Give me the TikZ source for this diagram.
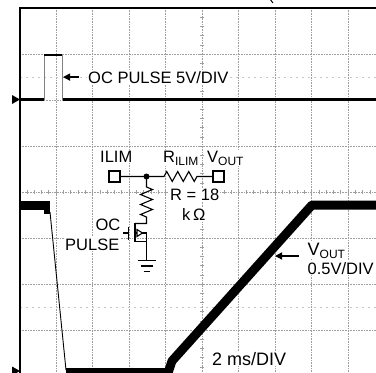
\documentclass[tikz,border=0pt]{standalone}
\usepackage{fontspec}
\setmainfont{Liberation Sans}
\usetikzlibrary{arrows.meta}

\tikzset{
  every node/.style={font=\fontsize{16.5}{19}\selectfont},
  grid line/.style={gray!75, line width=0.6pt, densely dotted},
  half line/.style={gray!45, line width=0.6pt, dash pattern=on 2pt off 4pt},
  trace/.style={black, line width=#1, line join=round},
  label/.style={fill=white, inner sep=1pt, anchor=base west},
  rlabel/.style={fill=white, inner sep=1pt, anchor=base east},
  pointer/.style={-{Triangle[length=7pt,width=7pt]}, line width=1.3pt},
  wire/.style={black, line width=1.1pt},
  term/.style={draw, fill=white, line width=1.1pt, minimum size=11pt, inner sep=0pt},
}
\newcommand{\sub}[1]{\raisebox{-3pt}{\fontsize{12}{12}\selectfont #1}}

\begin{document}
\begin{tikzpicture}[x=1pt, y=-1pt]
    \useasboundingbox (0,0) rectangle (376,373);
    \clip (0,0) rectangle (376,373);

    % graticule
    \foreach \i in {1,...,9}
        \draw[grid line] ({19.5+36.5*\i},8) -- ({19.5+36.5*\i},380);
    \foreach \j in {1,...,7}
        \draw[grid line] (20,{8+46*\j}) -- (390,{8+46*\j});
    \foreach \j in {77,307}
        \draw[half line] (20,\j) -- (390,\j);
    \foreach \j in {0,...,40}
        \draw[gray!75, line width=0.6pt] (200,{8+9.2*\j}) -- (204,{8+9.2*\j});
    \foreach \i in {0,...,50}
        \draw[gray!75, line width=0.6pt] ({19.5+7.3*\i},190) -- ({19.5+7.3*\i},194);

    % frame and channel markers
    \draw[black, line width=2pt] (20,380) -- (20,8) -- (390,8);
    \fill (12,95) -- (20,99.5) -- (12,104) -- cycle;
    \fill (12,366.5) -- (20,371) -- (12,375.5) -- cycle;
    \draw[line width=1pt] (270,-1) -- (273,3);

    % OC pulse trace
    \draw[trace=2.5pt] (20,99.5) -- (43.5,99.5);
    \draw[gray, line width=0.8pt] (44,99.5) -- (44,55);
    \draw[gray, line width=0.8pt] (62,55) -- (62,99.5);
    \draw[trace=2.5pt] (44,55) -- (62,55);
    \draw[trace=2.5pt] (62.5,99.5) -- (390,99.5);

    % VOUT trace
    \draw[trace=9pt] (20,205) -- (45,205);
    \fill (44,201) rectangle (50,214);
    \draw[black, line width=0.9pt] (50,212) -- (66,370);
    \draw[trace=7pt] (66,371) -- (168,371);
    \draw[trace=9pt] (168,373) -- (172,361) -- (312,205) -- (390,205);

    % labels on the traces
    \coordinate (pulse) at (63,0);
    \node[label] (ocpulse) at (87,83) {OC PULSE 5V/DIV};
    \draw[pointer] ([xshift=-8pt]ocpulse.west) -- (ocpulse.west -| pulse);

    \coordinate (ramp) at (275,0);
    \node[label] (vout) at (306.5,255) {{\fontsize{18}{19}\selectfont V}\sub{OUT}};
    \node[label] (voutscale) at (306.5,274) {0.5V/DIV};
    \draw[pointer] ([xshift=-8pt,yshift=-1pt]vout.base west) -- ([yshift=-1pt]vout.base west -| ramp);

    \node[label, font=\fontsize{18}{20}\selectfont] (timebase) at (211,365) {2 ms/DIV};

    % current limit circuit
    \node[term] (ilim) at (114.5,176.5) {};
    \node[term] (voutpin) at (218.5,176.5) {};
    \coordinate (jn) at (146.5,176.5);
    \coordinate (drain) at (146.5,223.5);
    \coordinate (gnd) at (146.5,260.5);

    \draw[wire] (ilim) -- (jn) -- (164,176.5)
        -- ++(2.75,-5) -- ++(5.5,10) -- ++(5.5,-10) -- ++(5.5,10)
        -- ++(5.5,-10) -- ++(5.5,10) -- ++(2.75,-5) -- (voutpin);
    \draw[wire] (jn) -- (146.5,187)
        -- ++(6,2.5) -- ++(-12,5) -- ++(12,5) -- ++(-12,5)
        -- ++(12,5) -- ++(-12,5) -- ++(6,2.5) -- (drain) -- (135,223.5);
    \fill (jn) circle (3pt);

    % mosfet
    \draw[line width=1.6pt] (135,222.5) -- (135,242);
    \draw[line width=1.6pt] (128.5,226.5) -- (128.5,239.5);
    \draw[wire] (123,233) -- (128.5,233);
    \draw[wire] (135,241.5) -- (146.5,241.5);
    \draw[wire] (135,233) -- (146.5,233) -- (gnd);
    \draw[wire, fill=white] (137,229.5) -- (142.5,233) -- (137,236.5) -- cycle;

    % ground
    \draw[line width=1.5pt] ([xshift=-9pt]gnd) -- ([xshift=9pt]gnd);
    \draw[line width=1.5pt] ([xshift=-6pt,yshift=-5.5pt]gnd) -- ([xshift=6pt,yshift=-5.5pt]gnd);
    \draw[line width=1.5pt] ([xshift=-3pt,yshift=-11pt]gnd) -- ([xshift=3pt,yshift=-11pt]gnd);

    % circuit labels
    \node[label] (ilimlabel) at (99,162.3) {ILIM};
    \node[label] (rlimlabel) at (162,162) {R\sub{ILIM}};
    \node[label] (voutlabel) at (206,162) {V\sub{OUT}};
    \node[label] (rvalue) at (169,200.7) {R = 18};
    \node[label] (runit) at (181,220.7) {k\thinspace Ω};
    \node[rlabel] (gatelabel) at (121.5,230) {OC};
    \node[rlabel] (gatelabel2) at (120.5,250) {PULSE};

\end{tikzpicture}
\end{document}
